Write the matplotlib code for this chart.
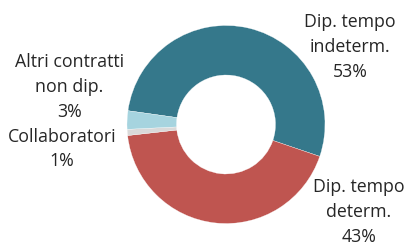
import matplotlib
matplotlib.use('Agg')
import matplotlib.pyplot as plt

# quote per tipologia contrattuale
categorie = ['Dip. tempo\nindeterm.', 'Dip. tempo\ndeterm.', 'Collaboratori', 'Altri contratti\nnon dip.']
valori = [53, 43, 1, 3]
colori = ['#35788b', '#bf5550', '#d9d9d9', '#a6d4df']

W, H = 412, 244
fig = plt.figure(figsize=(W / 100, H / 100), dpi=100)

# centro e raggio della ciambella in pixel
cx, cy, r = 226, 124.5, 99
ax = fig.add_axes([(cx - r) / W, (H - cy - r) / H, 2 * r / W, 2 * r / H])
ax.pie(valori, colors=colori, startangle=172, counterclock=False,
       wedgeprops=dict(width=0.5, edgecolor='white', linewidth=0.2))
ax.set_xlim(-1, 1)
ax.set_ylim(-1, 1)
ax.set_aspect('equal')
ax.axis('off')

# posizioni delle etichette (pixel)
pos_etichette = [(350, 47), (359, 212), (62, 149), (69.5, 87)]
for nome, v, (x, y) in zip(categorie, valori, pos_etichette):
    fig.text(x / W, 1 - y / H, f'{nome}\n{v}%', ha='center', va='center',
             multialignment='center', fontsize=12.8, family='Open Sans',
             color='#262626', linespacing=1.5)

fig.savefig('out.png', dpi=100)
